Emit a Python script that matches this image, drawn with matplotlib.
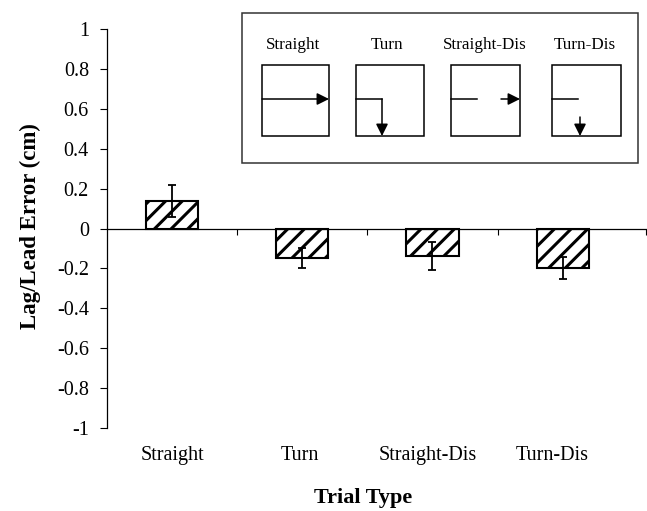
import matplotlib
matplotlib.use("Agg")
import matplotlib.pyplot as plt
from matplotlib.patches import Rectangle
from matplotlib.transforms import blended_transform_factory

plt.rcParams['font.family'] = ['Liberation Serif', 'DejaVu Serif']
plt.rcParams['hatch.linewidth'] = 2.2

categories = ["Straight", "Turn", "Straight-Dis", "Turn-Dis"]
values = [0.136, -0.146, -0.14, -0.196]
errors = [0.08, 0.05, 0.07, 0.055]
yticks = [1, 0.8, 0.6, 0.4, 0.2, 0, -0.2, -0.4, -0.6, -0.8, -1]
ytick_labels = ["1", "0.8", "0.6", "0.4", "0.2", "0", "-0.2", "-0.4", "-0.6", "-0.8", "-1"]
inset_labels = ["Straight", "Turn", "Straight-Dis", "Turn-Dis"]

W, H = 647, 511
fig = plt.figure(figsize=(W / 100, H / 100), dpi=100)
ax = fig.add_axes([107 / W, (H - 428) / H, (646 - 107) / W, (428 - 29) / H])

x = list(range(len(categories)))
ax.bar(x, values, width=0.4, color='white', edgecolor='black', linewidth=1.5,
       hatch='//', zorder=2)
ax.errorbar(x, values, yerr=errors, fmt='none', ecolor='black', elinewidth=1.3,
            capsize=3.2, capthick=1.3, zorder=3)

ax.set_xlim(-0.5, 3.64)
ax.set_ylim(-1, 1)
ax.set_yticks(yticks)
ax.set_yticklabels(ytick_labels, fontsize=14.5)
ax.tick_params(axis='y', direction='out', length=5, width=0.8, pad=8)

ax.spines['top'].set_visible(False)
ax.spines['right'].set_visible(False)
ax.spines['bottom'].set_position(('data', 0))
ax.spines['left'].set_linewidth(0.9)
ax.spines['bottom'].set_linewidth(0.9)
ax.set_xticks([0.5, 1.5, 2.5, 3.64])
ax.set_xticklabels([])
ax.tick_params(axis='x', direction='out', length=4, width=0.8)

trans = blended_transform_factory(ax.transData, ax.transAxes)
label_x = [0.0, 0.98, 1.96, 2.92]
for lx, c in zip(label_x, categories):
    ax.text(lx, -0.07, c, transform=trans, ha='center', va='center', fontsize=14.5)

fig.text(363 / W, 1 - 498 / H, "Trial Type", ha='center', va='center',
         fontsize=16, fontweight='bold')
fig.text(30 / W, 1 - 226 / H, "Lag/Lead Error (cm)", ha='center', va='center',
         rotation=90, fontsize=16.5, fontweight='bold')

# inset schematic
ov = fig.add_axes([0, 0, 1, 1], zorder=5)
ov.set_xlim(0, W)
ov.set_ylim(H, 0)
ov.axis('off')
ov.patch.set_alpha(0)

ov.add_patch(Rectangle((242, 13), 396, 150, facecolor='white', edgecolor='#333333', lw=1.1))
label_cx = [293, 387, 485, 585]
for cx, t in zip(label_cx, inset_labels):
    ov.text(cx, 45, t, ha='center', va='center', fontsize=12.3)

boxes = [(262, 329), (356, 424), (451, 520), (552, 621)]
top, bot = 65, 136
for (l, r) in boxes:
    ov.add_patch(Rectangle((l, top), r - l, bot - top, facecolor='white',
                           edgecolor='black', lw=1.1))

ap = dict(arrowstyle='-|>', mutation_scale=18, color='black', lw=1.1,
          shrinkA=0, shrinkB=0)
ymid = 99
# Straight
ov.annotate('', xy=(329, ymid), xytext=(262, ymid), arrowprops=ap)
# Turn
ov.plot([356, 382], [ymid, ymid], color='black', lw=1.1)
ov.annotate('', xy=(382, bot), xytext=(382, ymid), arrowprops=ap)
# Straight-Dis
ov.plot([451, 477], [ymid, ymid], color='black', lw=1.1)
ov.annotate('', xy=(520, ymid), xytext=(501, ymid), arrowprops=ap)
# Turn-Dis
ov.plot([552, 578], [ymid, ymid], color='black', lw=1.1)
ov.annotate('', xy=(580, bot), xytext=(580, 117), arrowprops=ap)

fig.savefig("out.png", dpi=100)
